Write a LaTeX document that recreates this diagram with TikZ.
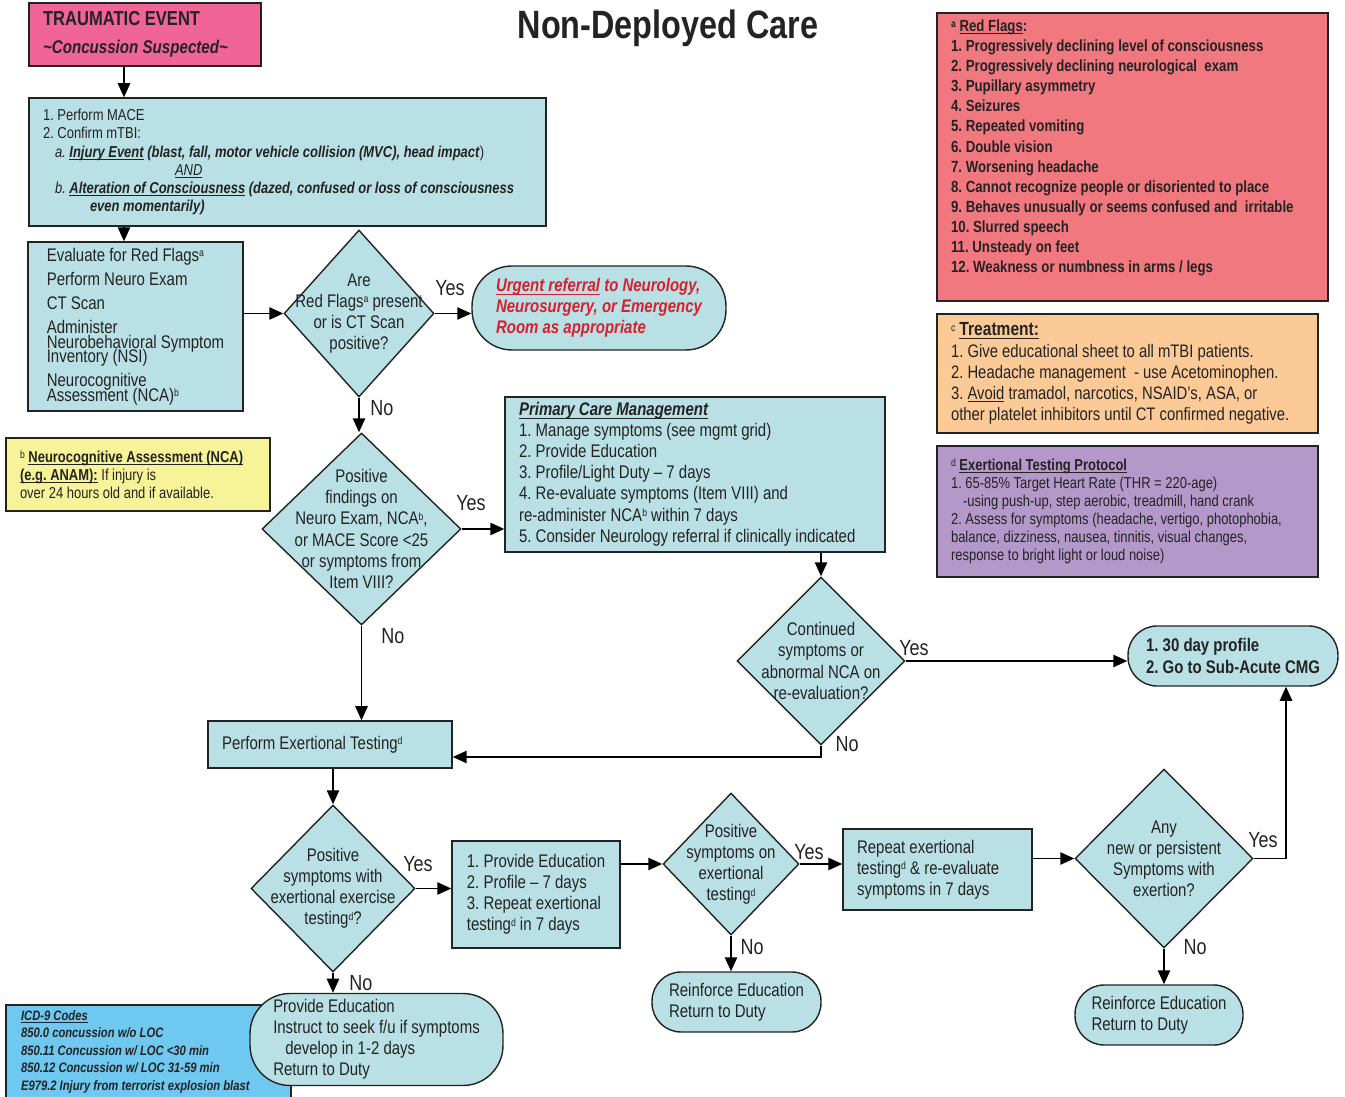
\documentclass[tikz,border=0pt]{standalone}
\usepackage{fontspec}
\setmainfont{Liberation Sans}[FakeStretch=0.82]
\usetikzlibrary{shapes.geometric,arrows.meta}

\definecolor{boxfill}{RGB}{185,224,228}
\definecolor{ink}{RGB}{35,35,35}
\definecolor{alertred}{RGB}{214,32,48}
\definecolor{eventpink}{RGB}{240,100,150}
\definecolor{flagred}{RGB}{242,120,128}
\definecolor{treatorange}{RGB}{252,202,150}
\definecolor{exerpurple}{RGB}{181,152,202}
\definecolor{ncayellow}{RGB}{247,243,152}
\definecolor{icdblue}{RGB}{110,200,240}

\newcommand{\sups}[1]{\raisebox{0.45ex}{\fontsize{6}{6}\selectfont #1}}
\newcommand{\ulin}[1]{\underline{\smash{#1}\vphantom{A}}}

\begin{document}
\frenchspacing
\begin{tikzpicture}[x=0.02cm,y=-0.02cm]
  \tikzset{
    box/.style={draw=ink, fill=boxfill, line width=0.8pt, text=ink, align=flush left,
      inner xsep=0.28cm, font=\fontsize{10.4}{12}\selectfont},
    terminal/.style={box, rounded corners=#1},
    note/.style={draw=ink, line width=0.8pt, text=ink, align=flush left, inner xsep=0.28cm},
    decision/.style={draw=ink, fill=boxfill, line width=0.8pt, diamond, inner sep=0pt},
    dectext/.style={text=ink, align=center, font=\fontsize{10.4}{12}\selectfont},
    answer/.style={text=ink, font=\fontsize{12.5}{14}\selectfont},
    arc/.style={-{Triangle[length=8pt,width=7pt]}, line width=1pt}
  }
  \useasboundingbox (0,0) rectangle (1345,1097);

  \node[text=ink, font=\bfseries\fontsize{22.5}{26}\selectfont] (title) at (668,28) {Non-Deployed Care};

  % footnote boxes
  \node[note, fill=flagred, minimum width=7.82cm, minimum height=5.76cm, text width=7.26cm,
        font=\bfseries\fontsize{9.2}{11.47}\selectfont] (flags) at (1132.5,157) {
    \sups{a} \ulin{Red Flags}:\\
    1. Progressively declining level of consciousness\\
    2. Progressively declining neurological\ \ exam\\
    3. Pupillary asymmetry\\
    4. Seizures\\
    5. Repeated vomiting\\
    6. Double vision\\
    7. Worsening headache\\
    8. Cannot recognize people or disoriented to place\\
    9. Behaves unusually or seems confused and\ \ irritable\\
    10. Slurred speech\\
    11. Unsteady on feet\\
    12. Weakness or numbness in arms / legs\rule[-12pt]{0pt}{0pt}};
  \node[note, fill=treatorange, minimum width=7.62cm, minimum height=2.38cm, text width=7.06cm,
        font=\fontsize{10.3}{12}\selectfont] (treat) at (1127.5,373.5) {
    \sups{c} \textbf{\fontsize{10.8}{12}\selectfont\ulin{Treatment:}}\\
    1. Give educational sheet to all mTBI patients.\\
    2. Headache management\ \ - use Acetominophen.\\
    3. \ulin{Avoid} tramadol, narcotics, NSAID’s, ASA, or\\
    other platelet inhibitors until CT confirmed negative.};
  \node[note, fill=exerpurple, minimum width=7.62cm, minimum height=2.62cm, text width=7.06cm,
        font=\fontsize{9}{10.3}\selectfont] (protocol) at (1127.5,511.5) {
    \sups{d} \textbf{\ulin{Exertional Testing Protocol}}\\
    1. 65-85\% Target Heart Rate (THR = 220-age)\\
    \hspace*{0.24cm}-using push-up, step aerobic, treadmill, hand crank\\
    2. Assess for symptoms (headache, vertigo, photophobia,\\
    balance, dizziness, nausea, tinnitis, visual changes,\\
    response to bright light or loud noise)};
  \node[note, fill=ncayellow, minimum width=5.28cm, minimum height=1.46cm, text width=4.72cm,
        font=\fontsize{9}{10.3}\selectfont] (nca) at (138,474.5) {
    \sups{b} \textbf{\ulin{Neurocognitive Assessment (NCA)}}\\
    \textbf{\ulin{(e.g. ANAM):}} If injury is\\
    over 24 hours old and if available.};
  \node[note, fill=icdblue, minimum width=5.7cm, minimum height=1.84cm, text width=5.1cm,
        inner xsep=0.3cm, font=\bfseries\itshape\fontsize{7.8}{10}\selectfont] (icd) at (148.5,1052) {
    \ulin{ICD-9 Codes}\\
    850.0 concussion w/o LOC\\
    850.11 Concussion w/ LOC <30 min\\
    850.12 Concussion w/ LOC 31-59 min\\
    E979.2 Injury from terrorist explosion blast};

  % flow
  \node[note, fill=eventpink, minimum width=4.64cm, minimum height=1.26cm, text width=4.08cm,
        font=\bfseries\fontsize{11.5}{16}\selectfont] (event) at (145,34.5)
        {TRAUMATIC EVENT\\{\itshape\fontsize{10.5}{16}\selectfont\textasciitilde Concussion Suspected\textasciitilde}};
  \node[box, minimum width=10.34cm, minimum height=2.56cm, text width=9.78cm,
        font=\fontsize{9}{10.3}\selectfont] (mace) at (287.5,162) {
    1. Perform MACE\\
    2. Confirm mTBI:\\
    \hspace*{0.24cm}\textit{a. \textbf{\ulin{Injury Event} (blast, fall, motor vehicle collision (MVC), head impact}})\\
    \hspace*{2.64cm}\textit{\ulin{AND}}\\
    \hspace*{0.24cm}\textit{b. \textbf{\ulin{Alteration of Consciousness} (dazed, confused or loss of consciousness}}\\
    \hspace*{0.94cm}\textit{\textbf{even momentarily)}}};
  \node[box, minimum width=4.3cm, minimum height=3.38cm,
        font=\fontsize{10.4}{13.7}\selectfont] (eval) at (135.5,326.5) {
    Evaluate for Red Flags\sups{a}\\
    Perform Neuro Exam\\
    CT Scan\\
    Administer\\[-5.4pt]
    Neurobehavioral Symptom\\[-5.4pt]
    Inventory (NSI)\\
    Neurocognitive\\[-5.4pt]
    Assessment (NCA)\sups{b}};
  \node[decision, minimum width=3cm, minimum height=3.34cm] (redq) at (359,313.5) {};
  \node[dectext] (redqtext) at (redq) {Are\\Red Flags\sups{a} present\\or is CT Scan\\positive?};
  \node[terminal=0.8cm, minimum width=5.08cm, minimum height=1.68cm, text=alertred,
        font=\bfseries\itshape\fontsize{10.4}{12}\selectfont] (urgent) at (599,308) {
    \ulin{Urgent referral} to Neurology,\\
    Neurosurgery, or Emergency\\
    Room as appropriate};
  \node[decision, minimum width=3.98cm, minimum height=3.84cm] (findq) at (361.5,529) {};
  \node[dectext] (findqtext) at (findq) {Positive\\findings on\\Neuro Exam, NCA\sups{b},\\or MACE Score <25\\or symptoms from\\Item VIII?};
  \node[box, minimum width=7.6cm, minimum height=3.1cm, text width=7.04cm] (pcm) at (695,474.5) {
    \textbf{\textit{\ulin{Primary Care Management}}}\\
    1. Manage symptoms (see mgmt grid)\\
    2. Provide Education\\
    3. Profile/Light Duty – 7 days\\
    4. Re-evaluate symptoms (Item VIII) and\\
    re-administer NCA\sups{b} within 7 days\\
    5. Consider Neurology referral if clinically indicated};
  \node[decision, minimum width=3.36cm, minimum height=3.36cm] (contq) at (821,661) {};
  \node[dectext] (contqtext) at (contq) {Continued\\symptoms or\\abnormal NCA on\\re-evaluation?};
  \node[terminal=0.58cm, minimum width=4.2cm, minimum height=1.2cm,
        font=\bfseries\fontsize{10.4}{12}\selectfont] (subacute) at (1233,656) {
    1. 30 day profile\\2. Go to Sub-Acute CMG};
  \node[box, minimum width=4.88cm, minimum height=0.94cm, text width=4.32cm] (exertion) at (330,744.5) {
    Perform Exertional Testing\sups{d}};
  \node[decision, minimum width=3.28cm, minimum height=3.34cm] (exerq) at (333,888.5) {};
  \node[dectext] (exerqtext) at (exerq) {Positive\\symptoms with\\exertional exercise\\testing\sups{d}?};
  \node[box, minimum width=3.36cm, minimum height=2.14cm] (educ7) at (536,894.5) {
    1. Provide Education\\
    2. Profile – 7 days\\
    3. Repeat exertional\\
    testing\sups{d} in 7 days};
  \node[decision, minimum width=2.72cm, minimum height=2.84cm] (posq) at (731,864) {};
  \node[dectext] (posqtext) at (posq) {Positive\\symptoms on\\exertional\\testing\sups{d}};
  \node[box, minimum width=3.78cm, minimum height=1.62cm, text width=3.22cm] (retest) at (937.5,869.5) {
    Repeat exertional\\
    testing\sups{d} \& re-evaluate\\
    symptoms in 7 days};
  \node[decision, minimum width=3.56cm, minimum height=3.58cm] (anyq) at (1164,858.5) {};
  \node[dectext] (anyqtext) at (anyq) {Any\\new or persistent\\Symptoms with\\exertion?};
  \node[terminal=0.8cm, minimum width=5.06cm, minimum height=1.7cm] (educate) at (376.5,1039.5) {
    Provide Education\\
    Instruct to seek f/u if symptoms\\
    \hspace*{0.24cm}develop in 1-2 days\\
    Return to Duty};
  \node[terminal=0.58cm, minimum width=3.38cm, minimum height=1.2cm] (duty1) at (736.5,1002) {
    Reinforce Education\\Return to Duty};
  \node[terminal=0.58cm, minimum width=3.36cm, minimum height=1.2cm] (duty2) at (1159,1015) {
    Reinforce Education\\Return to Duty};

  \node[answer] (yes1) at (450,288) {Yes};
  \node[answer] (no1) at (382,408) {No};
  \node[answer] (yes2) at (471,503) {Yes};
  \node[answer] (no2) at (393,636) {No};
  \node[answer] (yes3) at (914,648) {Yes};
  \node[answer] (no3) at (847,744) {No};
  \node[answer] (yes4) at (418,864) {Yes};
  \node[answer] (no4) at (361,983) {No};
  \node[answer] (yes5) at (809,852) {Yes};
  \node[answer] (no5) at (752,947) {No};
  \node[answer] (yes6) at (1263,840) {Yes};
  \node[answer] (no6) at (1195,947) {No};

  \coordinate (col) at (124,0);
  \foreach \x/\y in {%
    event.south -| col/mace.north -| col, mace.south -| col/eval.north -| col,
    redq.west -| eval.east/redq.west, redq.east/redq.east -| urgent.west,
    redq.south/redq.south |- findq.north, findq.east/findq.east -| pcm.west,
    findq.south/findq.south |- exertion.north,
    contq.north |- pcm.south/contq.north, contq.east/contq.east -| subacute.west,
    exerq.north |- exertion.south/exerq.north, exerq.east/exerq.east -| educ7.west,
    exerq.south/exerq.south |- educate.north, posq.west -| educ7.east/posq.west,
    posq.east/posq.east -| retest.west, posq.south/posq.south |- duty1.north,
    anyq.west -| retest.east/anyq.west, anyq.south/anyq.south |- duty2.north%
  }{
    \draw[arc] (\x) -- (\y);
  }
  \draw[arc] (contq.south) |- ([yshift=-0.25cm]exertion.east);
  \draw[arc] (anyq.east) -| ([xshift=1.06cm]subacute.south);
\end{tikzpicture}
\end{document}
